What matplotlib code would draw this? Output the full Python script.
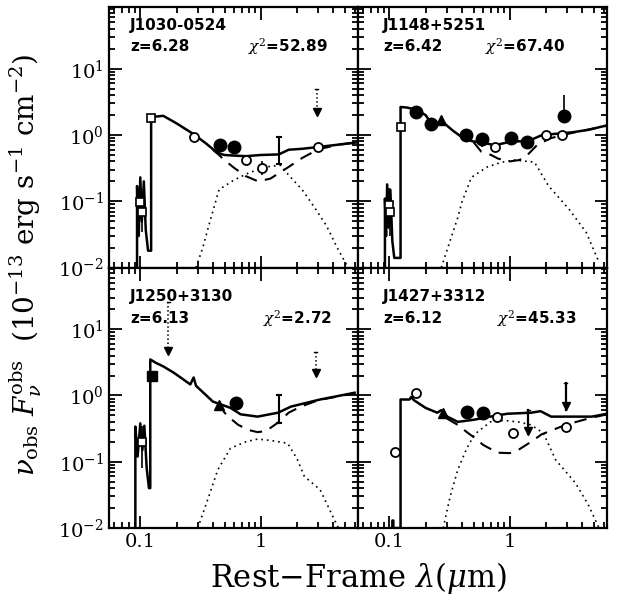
import numpy as np
import matplotlib
matplotlib.use("Agg")
import matplotlib.pyplot as plt
from matplotlib.ticker import LogLocator, NullFormatter, FixedLocator, FixedFormatter

plt.rcParams['font.family'] = ['DejaVu Serif']
plt.rcParams['mathtext.fontset'] = 'dejavuserif'

# ---------------- J1030-0524 ----------------
p1_names = ["J1030-0524", "z=6.28", r"$\chi^2$=52.89"]
p1_tot_lam = [0.094, 0.094, 0.097, 0.100, 0.103, 0.107, 0.111, 0.116, 0.123, 0.123, 0.135, 0.155,
              0.20, 0.277, 0.35, 0.42, 0.46, 0.50, 0.6, 0.75, 1.0, 1.41, 1.7, 2.2, 3.0, 4.5, 6.5]
p1_tot_f = [0.01, 0.17, 0.03, 0.23, 0.05, 0.20, 0.037, 0.018, 0.018, 2.0, 1.9, 1.95,
            1.5, 1.03, 0.75, 0.57, 0.52, 0.50, 0.49, 0.48, 0.50, 0.51, 0.60, 0.62, 0.66, 0.72, 0.78]
p1_dash_lam = [0.40, 0.45, 0.49, 0.6, 0.75, 0.95, 1.2, 1.7, 2.2, 3.0, 4.5, 6.5]
p1_dash_f = [0.60, 0.50, 0.43, 0.32, 0.24, 0.20, 0.22, 0.33, 0.45, 0.61, 0.72, 0.78]
p1_dot_lam = [0.29, 0.33, 0.37, 0.45, 0.6, 0.8, 1.1, 1.45, 1.7, 2.2, 2.8, 3.5, 4.3, 5.3]
p1_dot_f = [0.01, 0.02, 0.043, 0.15, 0.21, 0.27, 0.33, 0.35, 0.25, 0.15, 0.08, 0.043, 0.02, 0.01]
p1_sq_lam = [0.100, 0.103, 0.123]
p1_sq_f = [0.096, 0.07, 1.8]
p1_sq_lo = [0.06, 0.035, 1.5]
p1_sq_hi = [0.17, 0.13, 2.1]
p1_sqfill_lam = []
p1_sqfill_f = []
p1_open_lam = [0.28, 0.76, 1.03, 3.0]
p1_open_f = [0.93, 0.42, 0.32, 0.66]
p1_open_lo = [0.85, 0.39, 0.25, 0.62]
p1_open_hi = [1.02, 0.45, 0.40, 0.70]
p1_fill_lam = [0.46, 0.60]
p1_fill_f = [0.70, 0.66]
p1_fill_lo = [0.66, 0.62]
p1_fill_hi = [0.74, 0.70]
p1_tri_lam = []
p1_tri_f = []
p1_bar_lam = [1.41]
p1_bar_lo = [0.36]
p1_bar_hi = [0.93]
p1_ul_lam = [2.9]
p1_ul_top = [5.0]
p1_ul_tip = [2.0]

# ---------------- J1148+5251 ----------------
p2_names = ["J1148+5251", "z=6.42", r"$\chi^2$=67.40"]
p2_tot_lam = [0.092, 0.092, 0.094, 0.096, 0.099, 0.102, 0.106, 0.110, 0.124, 0.124, 0.14, 0.169,
              0.20, 0.22, 0.25, 0.28, 0.34, 0.42, 0.5, 0.58, 0.75, 1.03, 1.42, 1.85, 2.5, 3.3, 4.5, 6.4]
p2_tot_f = [0.01, 0.11, 0.03, 0.18, 0.04, 0.15, 0.025, 0.014, 0.014, 2.65, 2.6, 2.4,
            2.0, 1.55, 1.5, 1.55, 1.15, 0.87, 0.80, 0.78, 0.70, 0.80, 0.81, 1.0, 1.05, 1.1, 1.2, 1.4]
p2_dash_lam = [0.5, 0.58, 0.7, 0.8, 1.0, 1.2, 1.4, 1.7, 2.2, 3.3, 6.4]
p2_dash_f = [0.78, 0.56, 0.50, 0.44, 0.40, 0.42, 0.50, 0.72, 0.90, 1.08, 1.38]
p2_dot_lam = [0.27, 0.37, 0.40, 0.48, 0.65, 0.86, 1.1, 1.6, 2.1, 3.1, 4.3, 5.5]
p2_dot_f = [0.01, 0.057, 0.097, 0.23, 0.33, 0.39, 0.42, 0.39, 0.17, 0.076, 0.034, 0.012]
p2_sq_lam = [0.099, 0.101, 0.124]
p2_sq_f = [0.087, 0.068, 1.32]
p2_sq_lo = [0.05, 0.03, 1.1]
p2_sq_hi = [0.16, 0.12, 1.6]
p2_sqfill_lam = []
p2_sqfill_f = []
p2_open_lam = [0.75, 1.98, 2.7]
p2_open_f = [0.66, 1.0, 1.0]
p2_open_lo = [0.62, 0.95, 0.95]
p2_open_hi = [0.70, 1.05, 1.05]
p2_fill_lam = [0.166, 0.22, 0.43, 0.59, 1.03, 1.4, 2.8]
p2_fill_f = [2.2, 1.47, 1.0, 0.87, 0.9, 0.78, 1.94]
p2_fill_lo = [2.1, 1.4, 0.8, 0.65, 0.85, 0.7, 1.7]
p2_fill_hi = [2.3, 1.55, 1.1, 1.0, 0.95, 0.85, 4.0]
p2_tri_lam = [0.27]
p2_tri_f = [1.7]
p2_bar_lam = []
p2_bar_lo = []
p2_bar_hi = []
p2_ul_lam = []
p2_ul_top = []
p2_ul_tip = []

# ---------------- J1250+3130 ----------------
p3_names = ["J1250+3130", "z=6.13", r"$\chi^2$=2.72"]
p3_tot_lam = [0.091, 0.091, 0.095, 0.100, 0.104, 0.108, 0.113, 0.118, 0.121, 0.121, 0.135, 0.155,
              0.19, 0.26, 0.277, 0.29, 0.4, 0.56, 0.68, 0.94, 1.39, 1.78, 3.1, 6.0]
p3_tot_f = [0.01, 0.34, 0.12, 0.38, 0.15, 0.35, 0.08, 0.04, 0.04, 3.5, 3.1, 2.75,
            2.2, 1.47, 1.87, 1.4, 0.81, 0.65, 0.52, 0.48, 0.55, 0.68, 0.87, 1.1]
p3_dash_lam = [0.45, 0.5, 0.56, 0.65, 0.8, 0.94, 1.1, 1.39, 1.7, 2.15, 3.0, 6.0]
p3_dash_f = [0.75, 0.55, 0.45, 0.36, 0.30, 0.28, 0.29, 0.39, 0.55, 0.68, 0.85, 1.08]
p3_dot_lam = [0.30, 0.37, 0.44, 0.56, 0.75, 0.94, 1.2, 1.67, 2.0, 2.3, 3.1, 4.4]
p3_dot_f = [0.01, 0.03, 0.076, 0.16, 0.20, 0.22, 0.21, 0.19, 0.11, 0.06, 0.038, 0.01]
p3_sq_lam = [0.104]
p3_sq_f = [0.2]
p3_sq_lo = [0.08]
p3_sq_hi = [0.35]
p3_sqfill_lam = [0.126]
p3_sqfill_f = [1.95]
p3_open_lam = []
p3_open_f = []
p3_open_lo = []
p3_open_hi = []
p3_fill_lam = [0.62]
p3_fill_f = [0.78]
p3_fill_lo = [0.72]
p3_fill_hi = [0.84]
p3_tri_lam = [0.45]
p3_tri_f = [0.73]
p3_bar_lam = [1.42]
p3_bar_lo = [0.39]
p3_bar_hi = [1.0]
p3_ul_lam = [0.17, 2.85]
p3_ul_top = [26.0, 4.6]
p3_ul_tip = [4.2, 1.95]

# ---------------- J1427+3312 ----------------
p4_names = ["J1427+3312", "z=6.12", r"$\chi^2$=45.33"]
p4_tot_lam = [0.106, 0.106, 0.108, 0.108, 0.124, 0.124, 0.147, 0.152, 0.16, 0.2, 0.25, 0.27, 0.29,
              0.37, 0.5, 0.69, 0.95, 1.5, 1.8, 2.2, 4.8, 6.4]
p4_tot_f = [0.01, 0.013, 0.013, 0.01, 0.01, 0.87, 0.87, 0.95, 0.85, 0.65, 0.55, 0.60, 0.50,
            0.40, 0.43, 0.48, 0.53, 0.55, 0.58, 0.48, 0.48, 0.53]
p4_dash_lam = [0.3, 0.37, 0.44, 0.51, 0.6, 0.79, 1.0, 1.17, 1.5, 1.84, 2.9, 4.5, 6.4]
p4_dash_f = [0.45, 0.36, 0.28, 0.23, 0.18, 0.137, 0.135, 0.15, 0.2, 0.26, 0.36, 0.45, 0.52]
p4_dot_lam = [0.28, 0.32, 0.37, 0.44, 0.51, 0.69, 0.9, 1.17, 1.5, 1.9, 2.4, 3.5, 4.5, 5.5]
p4_dot_f = [0.01, 0.03, 0.076, 0.16, 0.26, 0.40, 0.42, 0.40, 0.36, 0.27, 0.107, 0.048, 0.022, 0.01]
p4_sq_lam = []
p4_sq_f = []
p4_sq_lo = []
p4_sq_hi = []
p4_sqfill_lam = []
p4_sqfill_f = []
p4_open_lam = [0.112, 0.168, 0.79, 1.07, 2.95]
p4_open_f = [0.14, 1.1, 0.48, 0.27, 0.34]
p4_open_lo = [0.13, 1.05, 0.45, 0.24, 0.32]
p4_open_hi = [0.15, 1.15, 0.51, 0.30, 0.36]
p4_fill_lam = [0.44, 0.60]
p4_fill_f = [0.57, 0.55]
p4_fill_lo = [0.54, 0.52]
p4_fill_hi = [0.60, 0.58]
p4_tri_lam = [0.28]
p4_tri_f = [0.55]
p4_bar_lam = []
p4_bar_lo = []
p4_bar_hi = []
p4_ul_lam = [1.42, 2.9]
p4_ul_top = [0.61, 1.57]
p4_ul_tip = [0.26, 0.61]

panels = [
    dict(names=p1_names, tot=(p1_tot_lam, p1_tot_f), dash=(p1_dash_lam, p1_dash_f), dot=(p1_dot_lam, p1_dot_f),
         sq=(p1_sq_lam, p1_sq_f, p1_sq_lo, p1_sq_hi), sqfill=(p1_sqfill_lam, p1_sqfill_f),
         op=(p1_open_lam, p1_open_f, p1_open_lo, p1_open_hi), fl=(p1_fill_lam, p1_fill_f, p1_fill_lo, p1_fill_hi),
         tri=(p1_tri_lam, p1_tri_f), bar=(p1_bar_lam, p1_bar_lo, p1_bar_hi), ul=(p1_ul_lam, p1_ul_top, p1_ul_tip),
         ulstyle=':', textpos=(0.085, 0.928, 0.848, 0.56)),
    dict(names=p2_names, tot=(p2_tot_lam, p2_tot_f), dash=(p2_dash_lam, p2_dash_f), dot=(p2_dot_lam, p2_dot_f),
         sq=(p2_sq_lam, p2_sq_f, p2_sq_lo, p2_sq_hi), sqfill=(p2_sqfill_lam, p2_sqfill_f),
         op=(p2_open_lam, p2_open_f, p2_open_lo, p2_open_hi), fl=(p2_fill_lam, p2_fill_f, p2_fill_lo, p2_fill_hi),
         tri=(p2_tri_lam, p2_tri_f), bar=(p2_bar_lam, p2_bar_lo, p2_bar_hi), ul=(p2_ul_lam, p2_ul_top, p2_ul_tip),
         ulstyle=':', textpos=(0.10, 0.928, 0.848, 0.51)),
    dict(names=p3_names, tot=(p3_tot_lam, p3_tot_f), dash=(p3_dash_lam, p3_dash_f), dot=(p3_dot_lam, p3_dot_f),
         sq=(p3_sq_lam, p3_sq_f, p3_sq_lo, p3_sq_hi), sqfill=(p3_sqfill_lam, p3_sqfill_f),
         op=(p3_open_lam, p3_open_f, p3_open_lo, p3_open_hi), fl=(p3_fill_lam, p3_fill_f, p3_fill_lo, p3_fill_hi),
         tri=(p3_tri_lam, p3_tri_f), bar=(p3_bar_lam, p3_bar_lo, p3_bar_hi), ul=(p3_ul_lam, p3_ul_top, p3_ul_tip),
         ulstyle=':', textpos=(0.085, 0.89, 0.805, 0.62)),
    dict(names=p4_names, tot=(p4_tot_lam, p4_tot_f), dash=(p4_dash_lam, p4_dash_f), dot=(p4_dot_lam, p4_dot_f),
         sq=(p4_sq_lam, p4_sq_f, p4_sq_lo, p4_sq_hi), sqfill=(p4_sqfill_lam, p4_sqfill_f),
         op=(p4_open_lam, p4_open_f, p4_open_lo, p4_open_hi), fl=(p4_fill_lam, p4_fill_f, p4_fill_lo, p4_fill_hi),
         tri=(p4_tri_lam, p4_tri_f), bar=(p4_bar_lam, p4_bar_lo, p4_bar_hi), ul=(p4_ul_lam, p4_ul_top, p4_ul_tip),
         ulstyle='-', textpos=(0.10, 0.89, 0.805, 0.56)),
]

x_ticks = [0.1, 1]
x_ticklabels = ["0.1", "1"]
y_ticks = [1e-2, 1e-1, 1e0, 1e1]
y_ticklabels = [r"$10^{-2}$", r"$10^{-1}$", r"$10^{0}$", r"$10^{1}$"]

fig = plt.figure(figsize=(6.17, 5.96), dpi=100)
L, W = 109 / 617, 249 / 617
H = 0.437
B0 = 0.114
positions = [(L, B0 + H), (L + W, B0 + H), (L, B0), (L + W, B0)]

for i, (pan, (x0, y0)) in enumerate(zip(panels, positions)):
    ax = fig.add_axes([x0, y0, W, H])
    ax.set_xscale('log')
    ax.set_yscale('log')
    ax.set_xlim(0.055, 6.4)
    ax.set_ylim(0.01, 85)

    ax.plot(*pan['dot'], color='black', lw=1.2, ls=(0, (1, 2.4)))
    ax.plot(*pan['dash'], color='black', lw=1.5, ls=(0, (6, 4)))
    ax.plot(*pan['tot'], color='black', lw=1.8)

    lam, f, lo, hi = pan['sq']
    if lam:
        ax.errorbar(lam, f, yerr=[np.array(f) - np.array(lo), np.array(hi) - np.array(f)], fmt='s',
                    mfc='white', mec='black', ms=6, mew=1.2, ecolor='black', elinewidth=1.2, capsize=0)
    lam, f = pan['sqfill']
    if lam:
        ax.plot(lam, f, 's', color='black', ms=7)
    lam, f, lo, hi = pan['op']
    if lam:
        ax.errorbar(lam, f, yerr=[np.array(f) - np.array(lo), np.array(hi) - np.array(f)], fmt='o',
                    mfc='white', mec='black', ms=6.5, mew=1.3, ecolor='black', elinewidth=1.2, capsize=0)
    lam, f, lo, hi = pan['fl']
    if lam:
        ax.errorbar(lam, f, yerr=[np.array(f) - np.array(lo), np.array(hi) - np.array(f)], fmt='o',
                    mfc='black', mec='black', ms=9, ecolor='black', elinewidth=1.2, capsize=0)
    lam, f = pan['tri']
    if lam:
        ax.plot(lam, f, '^', color='black', ms=7.5)
    lam, lo, hi = pan['bar']
    for l, a, b in zip(lam, lo, hi):
        ax.plot([l, l], [a, b], color='black', lw=1.5)
        ax.plot([l / 1.04, l * 1.04], [b, b], color='black', lw=1.5)
        ax.plot([l / 1.04, l * 1.04], [a, a], color='black', lw=1.5)
    lam, top, tip = pan['ul']
    for l, t, p in zip(lam, top, tip):
        ax.plot([l, l], [t, p], color='black', lw=1.1 if pan['ulstyle'] == ':' else 1.6,
                ls=pan['ulstyle'])
        ax.plot([l / 1.03, l * 1.03], [t, t], color='black', lw=1.0)
        ax.plot([l], [p * 1.12], 'v', color='black', ms=6)

    tx, ty1, ty2, tx2 = pan['textpos']
    ax.text(tx, ty1, pan['names'][0], transform=ax.transAxes, ha='left', va='center',
            fontsize=11, fontweight='bold', family='DejaVu Sans')
    ax.text(tx, ty2, pan['names'][1], transform=ax.transAxes, ha='left', va='center',
            fontsize=11, fontweight='bold', family='DejaVu Sans')
    ax.text(tx2, ty2, pan['names'][2], transform=ax.transAxes, ha='left', va='center',
            fontsize=11, fontweight='bold', family='DejaVu Sans')

    ax.xaxis.set_major_locator(FixedLocator(x_ticks))
    ax.xaxis.set_major_formatter(FixedFormatter(x_ticklabels))
    ax.xaxis.set_minor_locator(LogLocator(base=10, subs=np.arange(2, 10), numticks=20))
    ax.xaxis.set_minor_formatter(NullFormatter())
    ax.yaxis.set_major_locator(FixedLocator(y_ticks))
    ax.yaxis.set_major_formatter(FixedFormatter(y_ticklabels))
    ax.yaxis.set_minor_locator(LogLocator(base=10, subs=np.arange(2, 10), numticks=20))
    ax.yaxis.set_minor_formatter(NullFormatter())
    ax.tick_params(which='both', direction='in', top=True, right=True, width=1.3, colors='black',
                   labelsize=14)
    ax.tick_params(which='major', length=9)
    ax.tick_params(which='minor', length=4.5)
    if i % 2 == 1:
        ax.tick_params(labelleft=False)
    if i < 2:
        ax.tick_params(labelbottom=False)
    for sp in ax.spines.values():
        sp.set_linewidth(1.6)

fig.text(0.042, 0.555, r"$\nu_{\rm obs}\ F_\nu^{\rm obs}$  (10$^{-13}$ erg s$^{-1}$ cm$^{-2}$)",
         rotation=90, ha='center', va='center', fontsize=20)
fig.text(L + W, 0.03, r"Rest$-$Frame $\lambda(\mu$m$)$", ha='center', va='center', fontsize=22)

fig.savefig("out.png", dpi=100)
